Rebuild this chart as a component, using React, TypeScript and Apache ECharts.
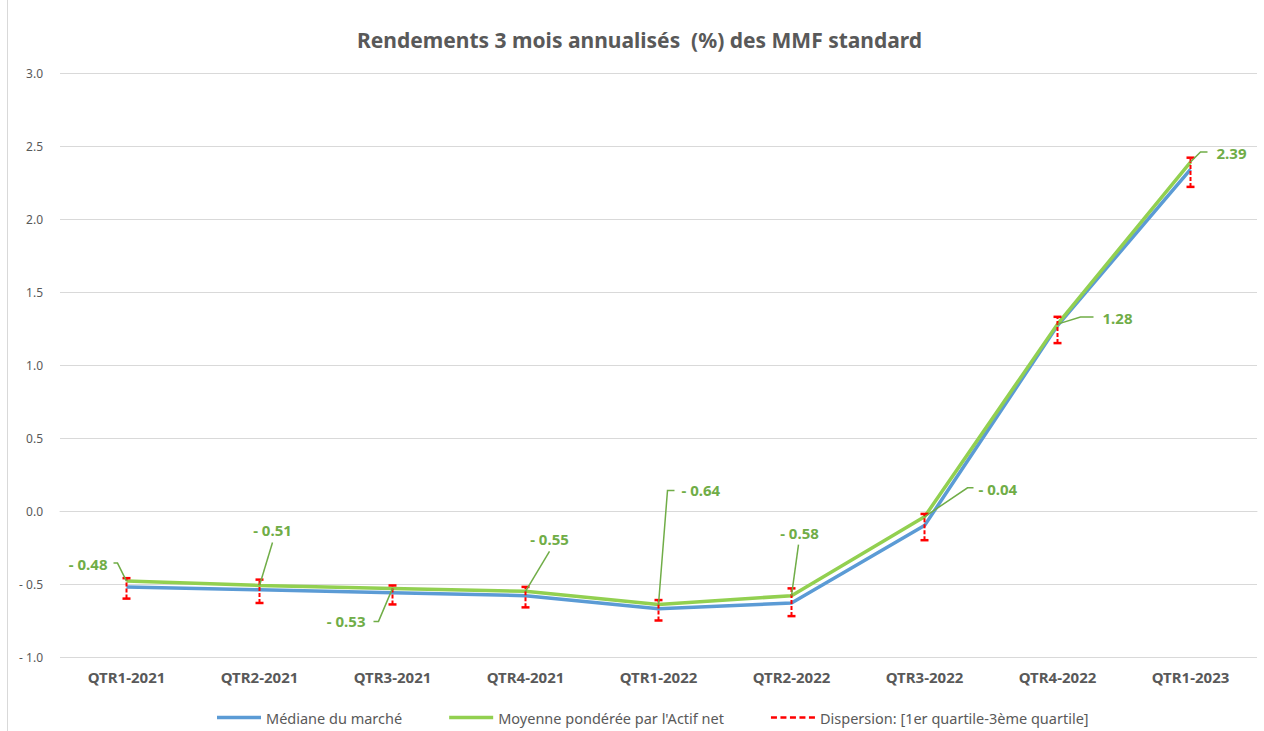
import React, { useEffect, useRef } from 'react';
import * as echarts from 'echarts';

const categories = ['QTR1-2021', 'QTR2-2021', 'QTR3-2021', 'QTR4-2021', 'QTR1-2022', 'QTR2-2022', 'QTR3-2022', 'QTR4-2022', 'QTR1-2023'];
const medianValues = [-0.52, -0.54, -0.56, -0.58, -0.67, -0.63, -0.1, 1.27, 2.34];
const weightedValues = [-0.48, -0.51, -0.53, -0.55, -0.64, -0.58, -0.04, 1.28, 2.39];
const q1Values = [-0.6, -0.63, -0.64, -0.66, -0.75, -0.72, -0.2, 1.15, 2.22];
const q3Values = [-0.46, -0.47, -0.51, -0.52, -0.61, -0.53, -0.02, 1.33, 2.42];

const seriesNames = ['Médiane du marché', "Moyenne pondérée par l'Actif net", 'Dispersion: [1er quartile-3ème quartile]'];
const titleText = 'Rendements 3 mois annualisés  (%) des MMF standard';

// callout leader-line layout (pixel offsets from the data point)
const calloutLayout = [
  { ex: -9, ey: -18, hx: -4, tx: -6, ty: 1, align: 'right' },
  { ex: 13, ey: -43, hx: 0, tx: 0, ty: -12, align: 'center' },
  { ex: -14, ey: 33, hx: -5, tx: -8, ty: 0, align: 'right' },
  { ex: 24, ey: -40, hx: 0, tx: 0, ty: -12, align: 'center' },
  { ex: 9, ey: -114, hx: 7, tx: 7, ty: 0, align: 'left' },
  { ex: 7, ey: -51, hx: 0, tx: 1, ty: -12, align: 'center' },
  { ex: 43, ey: -29, hx: 6, tx: 5, ty: 1, align: 'left' },
  { ex: 23, ey: -7, hx: 13, tx: 9, ty: 1, align: 'left' },
  { ex: 10, ey: -10, hx: 7, tx: 9, ty: 1, align: 'left' },
];

const FONT = '"Noto Sans", sans-serif';
const GREY = '#595959';
const GREEN_TXT = '#70ad47';

const fmt = (v: number, d: number) => (v < 0 ? '- ' + Math.abs(v).toFixed(d) : v.toFixed(d));

export default function App() {
  const ref = useRef<HTMLDivElement>(null);
  useEffect(() => {
    if (!ref.current) return;
    const chart = echarts.init(ref.current, null, { renderer: 'svg' });
    chart.setOption({
      animation: false,
      backgroundColor: '#ffffff',
      title: {
        text: titleText,
        left: 352,
        top: 24,
        textStyle: { fontFamily: FONT, fontSize: 21, fontWeight: 'bold', color: GREY },
      },
      graphic: [
        { type: 'line', shape: { x1: 7.5, y1: 0, x2: 7.5, y2: 731 }, style: { stroke: '#d9d9d9', lineWidth: 1 } },
      ],
      grid: { left: 60, right: 7, top: 73, bottom: 74, containLabel: false },
      legend: {
        top: 705,
        left: 212,
        itemWidth: 44,
        itemHeight: 14,
        itemGap: 47,
        textStyle: { fontFamily: FONT, fontSize: 14.5, color: GREY },
        data: [
          { name: seriesNames[0], icon: 'path://M0 0H44V3.5H0Z' },
          { name: seriesNames[1], icon: 'path://M0 0H44V3.5H0Z' },
          { name: seriesNames[2], icon: 'path://M0 0H6V2.5H0ZM9.5 0H15.5V2.5H9.5ZM19 0H25V2.5H19ZM28.5 0H34.5V2.5H28.5ZM38 0H44V2.5H38Z' },
        ],
      },
      xAxis: {
        type: 'category',
        data: categories,
        boundaryGap: true,
        axisLine: { show: true, lineStyle: { color: '#d9d9d9' } },
        axisTick: { show: false },
        axisLabel: { fontFamily: FONT, fontSize: 15, fontWeight: 'bold', color: GREY, margin: 12 },
      },
      yAxis: {
        type: 'value',
        min: -1,
        max: 3,
        interval: 0.5,
        axisLine: { show: false },
        axisTick: { show: false },
        splitLine: { lineStyle: { color: '#d9d9d9', width: 1 } },
        axisLabel: { fontFamily: FONT, fontSize: 12, color: GREY, margin: 17, formatter: (v: number) => fmt(v, 1) },
      },
      series: [
        {
          name: seriesNames[0],
          type: 'line',
          data: medianValues,
          symbol: 'none',
          lineStyle: { color: '#5b9bd5', width: 3.5 },
          itemStyle: { color: '#5b9bd5' },
          z: 2,
        },
        {
          name: seriesNames[1],
          type: 'line',
          data: weightedValues,
          symbol: 'none',
          lineStyle: { color: '#92d050', width: 3.5 },
          itemStyle: { color: '#92d050' },
          z: 3,
        },
        {
          name: seriesNames[2],
          type: 'custom',
          itemStyle: { color: '#ff0000' },
          data: categories.map((_, i) => [i, q1Values[i], q3Values[i]]),
          z: 5,
          renderItem: (params: any, api: any) => {
            const i = api.value(0);
            const lo = api.coord([i, api.value(1)]);
            const hi = api.coord([i, api.value(2)]);
            const cw = 4;
            return {
              type: 'group',
              children: [
                { type: 'line', shape: { x1: lo[0], y1: lo[1], x2: hi[0], y2: hi[1] }, style: { stroke: '#ff0000', lineWidth: 2, lineDash: [4, 2] } },
                { type: 'line', shape: { x1: lo[0] - cw, y1: lo[1], x2: lo[0] + cw, y2: lo[1] }, style: { stroke: '#ff0000', lineWidth: 2.5 } },
                { type: 'line', shape: { x1: hi[0] - cw, y1: hi[1], x2: hi[0] + cw, y2: hi[1] }, style: { stroke: '#ff0000', lineWidth: 2.5 } },
              ],
            };
          },
        },
        {
          name: 'labels',
          type: 'custom',
          data: weightedValues.map((v, i) => [i, v]),
          z: 6,
          clip: false,
          silent: true,
          renderItem: (params: any, api: any) => {
            const i = api.value(0);
            const v = api.value(1);
            const p = api.coord([i, v]);
            const L = calloutLayout[i];
            const e = [p[0] + L.ex, p[1] + L.ey];
            const h = [e[0] + L.hx, e[1]];
            return {
              type: 'group',
              children: [
                { type: 'polyline', shape: { points: [p, e, h] }, style: { stroke: GREEN_TXT, lineWidth: 1.5, fill: 'none' } },
                {
                  type: 'text',
                  x: h[0] + L.tx,
                  y: h[1] + L.ty,
                  style: {
                    text: fmt(v, 2),
                    align: L.align,
                    verticalAlign: 'middle',
                    fill: GREEN_TXT,
                    fontFamily: FONT,
                    fontSize: 15,
                    fontWeight: 'bold',
                  },
                },
              ],
            };
          },
        },
      ],
    });
    return () => chart.dispose();
  }, []);
  return <div ref={ref} style={{ position: 'fixed', left: 0, top: 0, width: 1264, height: 731 }} />;
}
